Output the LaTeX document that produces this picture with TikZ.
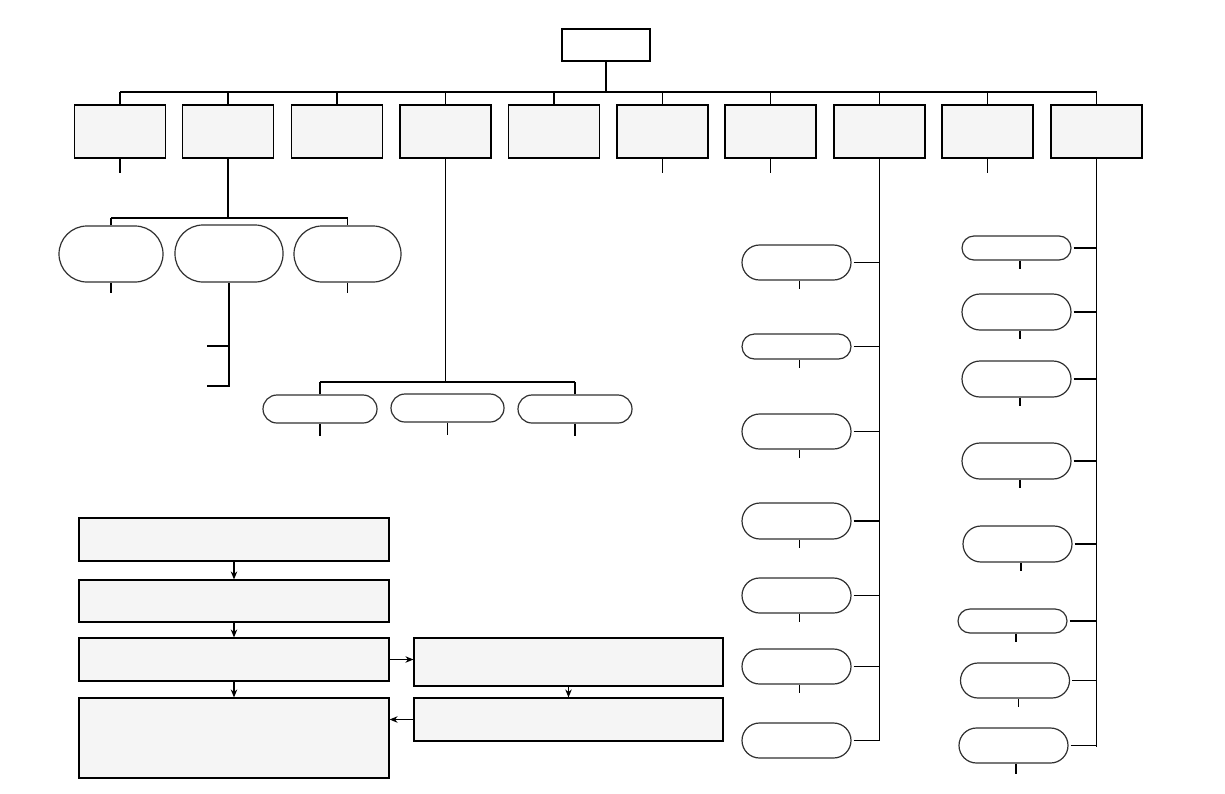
\documentclass[tikz,border=0pt]{standalone}
\usetikzlibrary{arrows.meta}
\definecolor{boxfill}{HTML}{F5F5F5}
\definecolor{ovalline}{HTML}{303030}
\begin{document}
\begin{tikzpicture}[x=1pt,y=-1pt,line width=1.2pt,
  topbox/.style={draw=black,fill=white,rectangle,inner sep=0pt,minimum width=88pt,minimum height=32pt},
  catbox/.style={draw=black,fill=boxfill,rectangle,inner sep=0pt,minimum width=91pt,minimum height=53pt},
  flowbox/.style={draw=black,fill=boxfill,rectangle,inner sep=0pt},
  oval/.style={draw=ovalline,fill=white,rectangle,inner sep=0pt},
  conn/.style={draw=black,line width=1.2pt},
  arr/.style={draw=black,line width=1.2pt,-{Stealth[length=8pt,width=6.5pt]}}]
\useasboundingbox (0,0) rectangle (1225,793);
% root
\node[topbox] (root) at (606,45) {};
% level 1
\foreach \i/\cx in {1/120,2/228,3/337,4/445.5,5/554,6/662.5,7/770.5,8/879.5,9/987.5,10/1096.5}
  \node[catbox] (l\i) at (\cx,131.5) {};
\coordinate (bus) at (606,92);
\draw[conn] (root.south) -- (bus);
\draw[conn] (l1.north |- bus) -- (l10.north |- bus);
\foreach \i in {1,...,10} \draw[conn] (l\i.north) -- (l\i.north |- bus);
% stubs under level-1 boxes
\foreach \i in {1,6,7,9} \draw[conn] (l\i.south) -- ++(0,14);
% --- branch of box 2
\node[oval,minimum width=104pt,minimum height=56pt,rounded corners=28pt] (e21) at (111,254) {};
\node[oval,minimum width=108pt,minimum height=57pt,rounded corners=28pt] (e22) at (229,253.5) {};
\node[oval,minimum width=107pt,minimum height=56pt,rounded corners=28pt] (e23) at (347.5,254) {};
\coordinate (bus2) at (228,218);
\draw[conn] (l2.south) -- (bus2);
\draw[conn] (e21.north |- bus2) -- (e23.north |- bus2);
\draw[conn] (e21.north) -- (e21.north |- bus2);
\draw[conn] (e23.north) -- (e23.north |- bus2);
\draw[conn] (e21.south) -- ++(0,10);
\draw[conn] (e23.south) -- ++(0,10);
\coordinate (b22a) at (207,346);
\coordinate (b22b) at (207,386);
\draw[conn] (e22.south) -- (e22.south |- b22b) -- (b22b);
\draw[conn] (e22.south |- b22a) -- (b22a);
% --- branch of box 4
\node[oval,minimum width=114pt,minimum height=28pt,rounded corners=14pt] (e41) at (320,409) {};
\node[oval,minimum width=113pt,minimum height=28pt,rounded corners=14pt] (e42) at (447.5,408) {};
\node[oval,minimum width=114pt,minimum height=28pt,rounded corners=14pt] (e43) at (575,409) {};
\coordinate (bus4) at (445.5,382);
\draw[conn] (l4.south) -- (bus4);
\draw[conn] (e41.north |- bus4) -- (e43.north |- bus4);
\draw[conn] (e41.north) -- (e41.north |- bus4);
\draw[conn] (e43.north) -- (e43.north |- bus4);
\foreach \n in {e41,e42,e43} \draw[conn] (\n.south) -- ++(0,12);
% --- branch of box 8
\foreach \j/\cy/\h in {1/262.5/35,2/346.5/25,3/431.5/35,4/521/36,5/595.5/35,6/666.5/35,7/740.5/35}
  \node[oval,minimum width=109pt,minimum height=\h pt,rounded corners=\h pt/2] (e8\j) at (796.5,\cy) {};
\coordinate (end8) at (879.5,741);
\draw[conn] (l8.south) -- (end8);
\foreach \j in {1,...,7} \draw[conn] ([xshift=2pt]e8\j.east) -- (e8\j.east -| end8);
\foreach \j in {1,...,6} \draw[conn] ([xshift=3pt]e8\j.south) -- ++(0,8);
% --- branch of box 10
\foreach \j/\cx/\cy/\h in {1/1016.5/248/24,2/1016.5/312/36,3/1016.5/379/36,4/1016.5/461/36,5/1017.5/544/36,6/1012.5/621/24,7/1015/680.5/35,8/1013.5/745.5/35}
  \node[oval,minimum width=109pt,minimum height=\h pt,rounded corners=\h pt/2] (e10\j) at (\cx,\cy) {};
\coordinate (end10) at (1096.5,747);
\draw[conn] (l10.south) -- (end10);
\foreach \j in {1,...,8} \draw[conn] ([xshift=2pt]e10\j.east) -- (e10\j.east -| end10);
\foreach \j in {1,...,7} \draw[conn] ([xshift=3.5pt]e10\j.south) -- ++(0,8);
\draw[conn] ([xshift=2.5pt]e108.south) -- ++(0,10);
% --- flowchart
\node[flowbox,minimum width=310pt,minimum height=43pt] (fa) at (234,539.5) {};
\node[flowbox,minimum width=310pt,minimum height=42pt] (fb) at (234,601) {};
\node[flowbox,minimum width=310pt,minimum height=43pt] (fc) at (234,659.5) {};
\node[flowbox,minimum width=310pt,minimum height=80pt] (fd) at (234,738) {};
\node[flowbox,minimum width=309pt,minimum height=48pt] (fe) at (568.5,662) {};
\node[flowbox,minimum width=309pt,minimum height=43pt] (ff) at (568.5,719.5) {};
\draw[arr] (fa.south) -- (fb.north);
\draw[arr] (fb.south) -- (fc.north);
\draw[arr] (fc.south) -- (fd.north);
\draw[arr] (fc.east) -- (fc.east -| fe.west);
\draw[arr] (fe.south) -- (ff.north);
\draw[arr] (ff.west) -- (ff.west -| fd.east);
\end{tikzpicture}
\end{document}
